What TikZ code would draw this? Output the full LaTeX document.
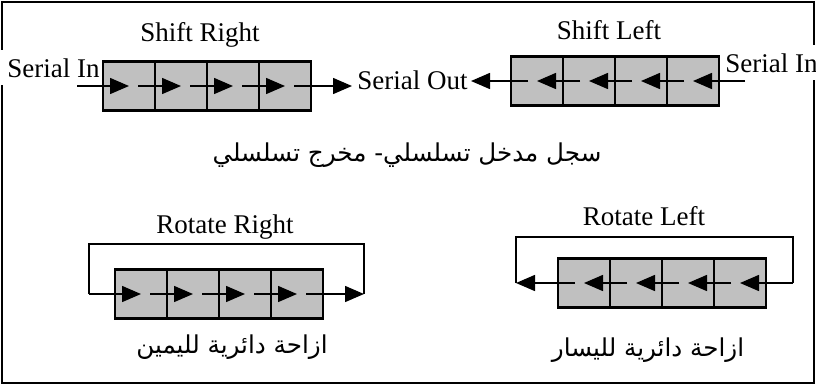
\documentclass[tikz,border=0pt]{standalone}
\usepackage{fontspec}
\setmainfont{Liberation Serif}
\newfontfamily\arabicfont[Script=Arabic]{DejaVu Sans}
\TeXXeTstate=1
\usetikzlibrary{arrows.meta, positioning}
\definecolor{cellgray}{RGB}{192,192,192}
\tikzset{
  cell/.style={draw, line width=1.3pt, fill=cellgray, minimum width=26pt,
    minimum height=24.5pt, inner sep=0pt, outer sep=0pt},
  flow/.style={line width=0.75pt, -{Triangle[length=9.5pt,width=8pt]}},
  wire/.style={line width=0.75pt},
  frame/.style={line width=1.3pt},
  lbl/.style={font=\fontsize{13.5}{15}\selectfont, inner sep=1pt},
  inlbl/.style={lbl, fill=white, inner xsep=3pt, inner ysep=4pt},
  arlbl/.style={font=\fontsize{12.3}{14}\selectfont\arabicfont, inner sep=1pt},
}

\begin{document}
\begin{tikzpicture}[x=0.5pt, y=-0.5pt]
    \useasboundingbox (0,0) rectangle (816,387);
    \draw[frame] (2,2) rectangle (814,383);

    %%% Shift Right %%%
    \node[lbl, anchor=base] (shR) at (200,41) {Shift Right};
    \node[inlbl, anchor=base west] (inR) at (1,77) {Serial In};
    \node[lbl, anchor=base west] (sOut) at (355,89) {Serial Out};
    \node[cell] (sr1) at (129,86) {};    \node[cell, right=0pt of sr1] (sr2) {};
    \node[cell, right=0pt of sr2] (sr3) {};  \node[cell, right=0pt of sr3] (sr4) {};
    \coordinate (srIn) at (77,86);      \coordinate (srOut) at (352,86);
    \draw[flow] (srIn) -- (sr1.center);
    \draw[flow] ([xshift=4.5pt]sr1.center) -- (sr2.center);
    \draw[flow] ([xshift=4.5pt]sr2.center) -- (sr3.center);
    \draw[flow] ([xshift=4.5pt]sr3.center) -- (sr4.center);
    \draw[flow] ([xshift=4.5pt]sr4.center) -- (srOut);

    %%% Shift Left %%%
    \node[lbl, anchor=base] (shL) at (609,39) {Shift Left};
    \node[inlbl, anchor=base west] (inL) at (719,72) {Serial In};
    \node[cell] (sl1) at (537,81) {};    \node[cell, right=0pt of sl1] (sl2) {};
    \node[cell, right=0pt of sl2] (sl3) {};  \node[cell, right=0pt of sl3] (sl4) {};
    \coordinate (slIn) at (745,81);     \coordinate (slOut) at (471,81);
    \draw[flow] (slIn) -- (sl4.center);
    \draw[flow] ([xshift=-4.5pt]sl4.center) -- (sl3.center);
    \draw[flow] ([xshift=-4.5pt]sl3.center) -- (sl2.center);
    \draw[flow] ([xshift=-4.5pt]sl2.center) -- (sl1.center);
    \draw[flow] ([xshift=-4.5pt]sl1.center) -- (slOut);

    \node[arlbl] (siso) at (407,155) {\beginR سجل مدخل تسلسلي- مخرج تسلسلي\endR};

    %%% Rotate Right %%%
    \node[lbl, anchor=base] (rotR) at (225,233) {Rotate Right};
    \node[cell] (rr1) at (141,294) {};   \node[cell, right=0pt of rr1] (rr2) {};
    \node[cell, right=0pt of rr2] (rr3) {};  \node[cell, right=0pt of rr3] (rr4) {};
    \coordinate (rrL) at (89,294);      \coordinate (rrR) at (364,294);
    \draw[wire] (rrL) -- ++(0,-50) -| (rrR);
    \draw[flow] (rrL) -- (rr1.center);
    \draw[flow] ([xshift=4.5pt]rr1.center) -- (rr2.center);
    \draw[flow] ([xshift=4.5pt]rr2.center) -- (rr3.center);
    \draw[flow] ([xshift=4.5pt]rr3.center) -- (rr4.center);
    \draw[flow] ([xshift=4.5pt]rr4.center) -- (rrR);
    \node[arlbl] (rotRar) at (232,347) {\beginR ازاحة دائرية لليمين\endR};

    %%% Rotate Left %%%
    \node[lbl, anchor=base] (rotL) at (644,225) {Rotate Left};
    \node[cell] (rl1) at (584,283) {};   \node[cell, right=0pt of rl1] (rl2) {};
    \node[cell, right=0pt of rl2] (rl3) {};  \node[cell, right=0pt of rl3] (rl4) {};
    \coordinate (rlL) at (516,283);     \coordinate (rlR) at (793,283);
    \draw[wire] (rlL) -- ++(0,-46) -| (rlR);
    \draw[flow] (rlR) -- (rl4.center);
    \draw[flow] ([xshift=-4.5pt]rl4.center) -- (rl3.center);
    \draw[flow] ([xshift=-4.5pt]rl3.center) -- (rl2.center);
    \draw[flow] ([xshift=-4.5pt]rl2.center) -- (rl1.center);
    \draw[flow] ([xshift=-4.5pt]rl1.center) -- (rlL);
    \node[arlbl] (rotLar) at (648,350) {\beginR ازاحة دائرية لليسار\endR};

\end{tikzpicture}
\end{document}
